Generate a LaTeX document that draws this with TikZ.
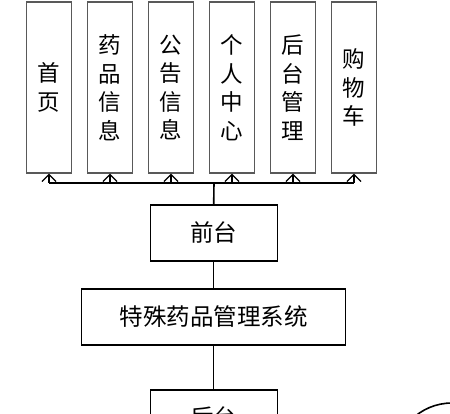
\documentclass[tikz,border=0pt]{standalone}
\usepackage{fontspec}
\newfontfamily\cjk{Noto Sans CJK SC}
\usetikzlibrary{arrows.meta}
\begin{document}
\begin{tikzpicture}[x=1pt,y=-1pt,
  topbox/.style={draw=black!65,line width=1.2pt,minimum width=45pt,minimum height=171pt,inner sep=0pt,align=center,font=\cjk\fontsize{22.5}{28.5}\selectfont},
  mainbox/.style={draw=black,line width=1.2pt,inner sep=0pt,font=\cjk\fontsize{23.5}{26}\selectfont},
  link/.style={draw=black,line width=1.2pt},
  arr/.style={link,-{Straight Barb[length=7pt,width=14pt,line width=1.3pt]}}]
\useasboundingbox (0,0) rectangle (450,414);
\fill[white] (0,0) rectangle (450,414);
\node[topbox] (b1) at (49,87.5) {首\\页};
\node[topbox] (b2) at (110,87.5) {药\\品\\信\\息};
\node[topbox] (b3) at (171,87.5) {公\\告\\信\\息};
\node[topbox] (b4) at (232,87.5) {个\\人\\中\\心};
\node[topbox] (b5) at (293,87.5) {后\\台\\管\\理};
\node[topbox] (b6) at (354,87.5) {购\\物\\车};
\coordinate (bus) at (214,183);
\node[mainbox,minimum width=127pt,minimum height=56pt] (front) at (213.7,233) {前台};
\node[mainbox,minimum width=264pt,minimum height=56pt] (sys) at (213.7,317) {特殊药品管理系统};
\node[mainbox,minimum width=127pt,minimum height=56pt] (back) at (213.7,418) {后台};
\foreach \i in {1,...,6} {\draw[arr] (b\i.south |- bus) -- (b\i.south);}
\draw[link] (b1.south |- bus) -- (b6.south |- bus);
\draw[link,line width=1.6pt] (front.north) -- (bus);
\draw[link] (front.south) -- (sys.north);
\draw[link] (sys.south) -- (back.north);
\begin{scope}
\clip (0,0) rectangle (450,414);
\draw[line width=1.6pt] (452,461) circle (58);
\end{scope}
\end{tikzpicture}
\end{document}
